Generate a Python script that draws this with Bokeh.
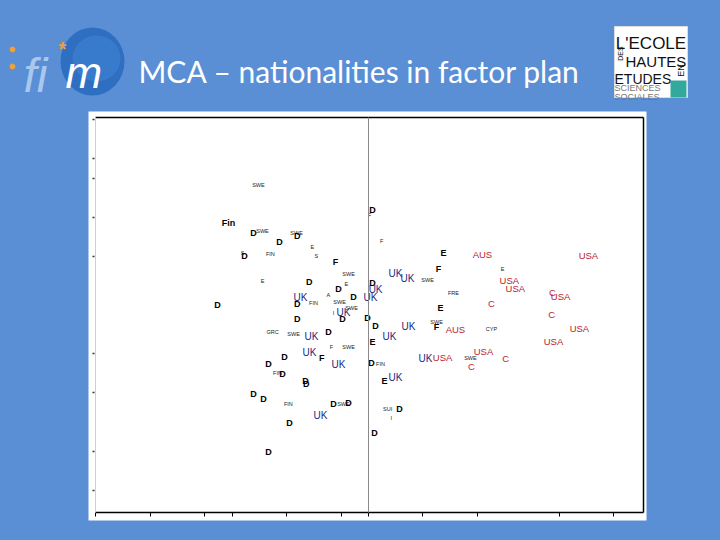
import math
from bokeh.plotting import figure
from bokeh.models import Range1d, LinearAxis, FixedTicker
from bokeh.layouts import column
from bokeh.embed import file_html
from bokeh.resources import INLINE
from bokeh.core.properties import value

# ---------------- data (factor coordinates) ----------------
big_text = ["D"] * 30 + ["E", "F", "E", "E", "E", "F", "F", "F", "Fin"]
big_x = [0.015, -0.422, -0.261, -0.327, -0.455, -0.217, 0.015, -0.110, -0.055, -0.554,
         -0.261, -0.261, -0.095, -0.004, 0.026, -0.147, -0.308, -0.367, 0.011, -0.316,
         -0.231, -0.228, -0.422, -0.385, -0.128, -0.073, 0.114, -0.290, 0.022, -0.367,
         0.275, 0.257, 0.264, 0.015, 0.059, 0.250, -0.121, -0.172, -0.514]
big_y = [0.540, 0.422, 0.402, 0.371, 0.299, 0.166, 0.161, 0.130, 0.089, 0.048,
         0.053, -0.024, -0.024, -0.014, -0.055, -0.086, -0.214, -0.250, -0.245, -0.306,
         -0.337, -0.357, -0.404, -0.434, -0.460, -0.450, -0.481, -0.557, -0.604, -0.706,
         0.319, 0.237, 0.037, -0.142, -0.342, -0.065, 0.273, -0.224, 0.473]

small_text = ["SWE", "SWE", "SWE", "F", "F", "E", "S", "FIN", "S", "SWE",
              "E", "A", "SWE", "FIN", "SWE", "I", "GRC", "SWE", "F", "SWE",
              "FIN", "FIN", "FIN", "SWE", "SUI", "I", "SWE", "FRE", "SWE", "CYP",
              "SWE", "E", "E"]
small_x = [-0.404, -0.389, -0.264, 0.004, 0.048, -0.206, -0.462, -0.360, -0.191, -0.073,
           -0.389, -0.147, -0.106, -0.202, -0.062, -0.128, -0.352, -0.275, -0.136, -0.073,
           -0.334, 0.044, -0.294, -0.092, 0.070, 0.084, 0.217, 0.312, 0.250, 0.451,
           0.374, 0.492, -0.081]
small_y = [0.668, 0.432, 0.422, 0.514, 0.381, 0.350, 0.319, 0.314, 0.299, 0.207,
           0.171, 0.104, 0.068, 0.063, 0.037, 0.011, -0.086, -0.096, -0.163, -0.163,
           -0.296, -0.250, -0.455, -0.455, -0.481, -0.527, 0.181, 0.114, -0.039, -0.075,
           -0.219, 0.237, 0.156]

uk_x = [0.099, 0.143, 0.026, 0.007, -0.250, -0.092, 0.147, 0.077, -0.209, -0.217,
        -0.110, 0.209, 0.099, -0.176]
uk_y = [0.212, 0.186, 0.130, 0.089, 0.089, 0.011, -0.060, -0.111, -0.111, -0.193,
        -0.255, -0.224, -0.322, -0.516]

red_text = ["AUS", "USA", "USA", "USA", "C", "USA", "C", "C", "AUS", "USA",
            "USA", "USA", "USA", "C", "C"]
red_x = [0.418, 0.807, 0.517, 0.539, 0.675, 0.705, 0.451, 0.672, 0.319, 0.774,
         0.679, 0.422, 0.272, 0.503, 0.378]
red_y = [0.309, 0.304, 0.176, 0.135, 0.114, 0.094, 0.058, 0.002, -0.075, -0.070,
         -0.137, -0.188, -0.219, -0.224, -0.265]

x_ticks = [-1.0, -0.8, -0.6, -0.5, -0.3, -0.1, 0.0, 0.2, 0.4, 0.7, 0.9]
y_ticks = [1.0, 0.8, 0.7, 0.5, 0.3, -0.2, -0.4, -0.7, -0.9]

title_text = "MCA \u2013 nationalities in factor plan"

# ---------------- styling ----------------
BG = "#5a8fd6"
XL, XR, YB, YT = -1.0, 1.009, -1.014, 1.013
LABEL_FONT = value("Liberation Sans")
LOGO_FONT = value("Liberation Sans")

# ---------------- header (title and logos), coordinates in page pixels ----------------
h = figure(width=720, height=108, x_range=Range1d(0, 720), y_range=Range1d(108, 0),
           output_backend="svg", toolbar_location=None, x_axis_type=None, y_axis_type=None,
           min_border=0, background_fill_color=BG, border_fill_color=BG,
           outline_line_color=None, styles={"background-color": BG})
h.frame_align = False

# fim logo
h.ellipse(x=[92], y=[61], width=[64], height=[68], fill_color="#2f6fc2", line_color=None)
h.ellipse(x=[96], y=[58], width=[48], height=[46], fill_color="#3f82d2", line_color=None,
          fill_alpha=0.6)
h.scatter(x=[12, 12], y=[49, 66], size=5, color="#f0a040")
h.text(x=[23], y=[75], text=["fi"], text_font=LOGO_FONT, text_font_size="48px",
       text_font_style="italic", text_color="#a9c8ee", text_baseline="alphabetic")
h.text(x=[58], y=[48], text=["*"], text_font=LOGO_FONT, text_font_size="20px",
       text_font_style="bold", text_color="#f39c3a", text_baseline="alphabetic")
h.text(x=[65], y=[72], text=["m"], text_font=LOGO_FONT, text_font_size="44px",
       text_font_style="italic", text_color="white", text_baseline="alphabetic")

# title
h.text(x=[138], y=[70], text=[title_text], text_font=value("Lato"), text_font_size="30px",
       text_color="white", text_baseline="alphabetic", text_align="left")

# EHESS logo
h.rect(x=[650.5], y=[61.5], width=[73], height=[71], fill_color="white", line_color="#dddddd")
h.text(x=[650.5], y=[43], text=["L'ECOLE"], text_font=LOGO_FONT, text_font_size="17px",
       text_color="#111111", text_align="center", text_baseline="alphabetic")
h.text(x=[620], y=[53], text=["DES"], text_font=LOGO_FONT, text_font_size="7px",
       angle=math.pi / 2, text_color="#111111", text_align="center", text_baseline="middle")
h.text(x=[625], y=[61], text=["HAUTES"], text_font=LOGO_FONT, text_font_size="15px",
       text_color="#111111", text_baseline="alphabetic")
h.text(x=[614], y=[78], text=["ETUDES"], text_font=LOGO_FONT, text_font_size="14px",
       text_color="#111111", text_baseline="alphabetic")
h.text(x=[680], y=[70], text=["EN"], text_font=LOGO_FONT, text_font_size="9px",
       angle=math.pi / 2, text_color="#111111", text_align="center", text_baseline="middle")
h.text(x=[614], y=[87], text=["SCIENCES"], text_font=LOGO_FONT, text_font_size="9px",
       text_color="#777777", text_baseline="alphabetic")
h.text(x=[614], y=[96], text=["SOCIALES"], text_font=LOGO_FONT, text_font_size="9px",
       text_color="#777777", text_baseline="alphabetic")
h.rect(x=[678], y=[88.5], width=[16], height=[17], fill_color="#33a89c", line_color=None)

# ---------------- main factor plan ----------------
p = figure(frame_width=558, frame_height=409,
           x_range=Range1d(-1.0275, 1.0202), y_range=Range1d(-1.0549, 1.0426),
           output_backend="svg", toolbar_location=None, x_axis_type=None, y_axis_type=None,
           min_border_left=88, min_border_right=74, min_border_top=3, min_border_bottom=20,
           background_fill_color="white", border_fill_color=BG, outline_line_color=None,
           styles={"background-color": BG})
p.frame_align = False


def frame_line(loc, bounds, color, width):
    return LinearAxis(fixed_location=loc, bounds=bounds, axis_line_color=color,
                      axis_line_width=width, ticker=FixedTicker(ticks=[]),
                      major_tick_line_color=None, minor_tick_line_color=None,
                      major_label_standoff=0)


xb = LinearAxis(ticker=FixedTicker(ticks=x_ticks), fixed_location=YB, bounds=(XL, XR),
                axis_line_color="black", axis_line_width=1.5,
                major_tick_line_color="black", major_tick_out=4, major_tick_in=0,
                minor_tick_line_color=None, major_label_standoff=0,
                major_label_overrides={t: "" for t in x_ticks})
p.add_layout(xb, "below")
p.add_layout(frame_line(YT, (XL, XR), "black", 1.5), "below")

yl = LinearAxis(ticker=FixedTicker(ticks=y_ticks), fixed_location=XL, bounds=(YB, YT),
                axis_line_color="#cfcfcf", axis_line_width=1,
                major_tick_line_color="#333333", major_tick_out=3, major_tick_in=-1,
                major_tick_line_width=1.5, minor_tick_line_color=None,
                major_label_standoff=0,
                major_label_overrides={t: "" for t in y_ticks})
p.add_layout(yl, "left")
p.add_layout(frame_line(0.0, (YB, YT), "#8a8a8a", 1), "left")
p.add_layout(frame_line(XR, (YB, YT), "black", 1.5), "right")

p.text(x=small_x, y=small_y, text=small_text, text_font=LABEL_FONT, text_font_size="5.5px",
       text_color="#222222", text_align="center", text_baseline="middle")
p.text(x=big_x, y=big_y, text=big_text, text_font=LABEL_FONT, text_font_size="9px",
       text_font_style="bold", text_color="black", text_align="center", text_baseline="middle")
p.text(x=uk_x, y=uk_y, text=["UK"] * len(uk_x), text_font=LABEL_FONT, text_font_size="10px",
       text_color="#1f2a80", text_align="center", text_baseline="middle")
p.text(x=red_x, y=red_y, text=red_text, text_font=LABEL_FONT, text_font_size="9.5px",
       text_color="#b8232f", text_align="center", text_baseline="middle")

layout = column(h, p, spacing=0, styles={"background-color": BG})
open("out.html", "w").write(file_html(layout, INLINE))
